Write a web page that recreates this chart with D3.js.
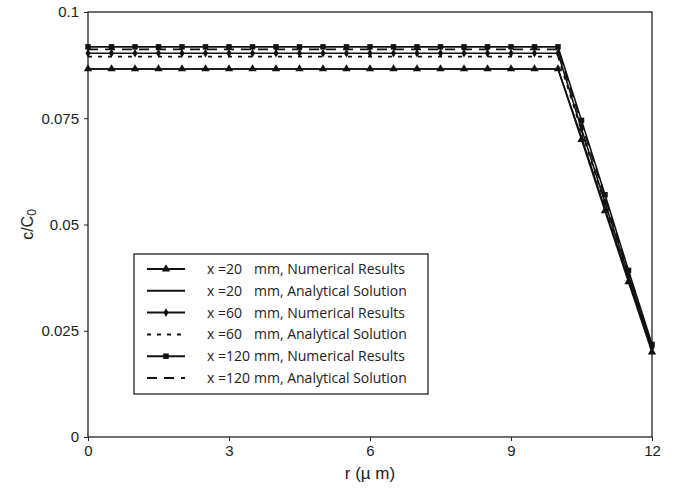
<!DOCTYPE html>
<html>
<head>
<meta charset="utf-8">
<script src="https://cdn.jsdelivr.net/npm/d3@7"></script>
<style>
  body { margin: 0; background: #fff; }
  svg { display: block; font-family: "Liberation Sans", Arial, sans-serif; }
  .legend text { font-family: "Open Sans", "Noto Sans", sans-serif; font-size: 14px; fill: #222; }
</style>
</head>
<body>
<div id="vis"></div>
<script>
const width = 675, height = 491;
const margin = { top: 12, right: 23, bottom: 54, left: 88 };

// radial positions (µm)
const rValues = [0, 0.5, 1, 1.5, 2, 2.5, 3, 3.5, 4, 4.5, 5, 5.5, 6, 6.5, 7, 7.5, 8, 8.5, 9, 9.5, 10, 10.5, 11, 11.5, 12];

// c/C0 for each case
const num20 = [0.0866, 0.0866, 0.0866, 0.0866, 0.0866, 0.0866, 0.0866, 0.0866, 0.0866, 0.0866, 0.0866, 0.0866, 0.0866, 0.0866, 0.0866, 0.0866, 0.0866, 0.0866, 0.0866, 0.0866, 0.0866, 0.0700, 0.0532, 0.0365, 0.0200];
const ana20 = [0.0866, 0.0866, 0.0866, 0.0866, 0.0866, 0.0866, 0.0866, 0.0866, 0.0866, 0.0866, 0.0866, 0.0866, 0.0866, 0.0866, 0.0866, 0.0866, 0.0866, 0.0866, 0.0866, 0.0866, 0.0866, 0.0705, 0.0537, 0.0370, 0.0203];
const num60 = [0.0903, 0.0903, 0.0903, 0.0903, 0.0903, 0.0903, 0.0903, 0.0903, 0.0903, 0.0903, 0.0903, 0.0903, 0.0903, 0.0903, 0.0903, 0.0903, 0.0903, 0.0903, 0.0903, 0.0903, 0.0903, 0.0725, 0.0552, 0.0380, 0.0210];
const ana60 = [0.0895, 0.0895, 0.0895, 0.0895, 0.0895, 0.0895, 0.0895, 0.0895, 0.0895, 0.0895, 0.0895, 0.0895, 0.0895, 0.0895, 0.0895, 0.0895, 0.0895, 0.0895, 0.0895, 0.0895, 0.0895, 0.0720, 0.0548, 0.0377, 0.0208];
const num120 = [0.0918, 0.0918, 0.0918, 0.0918, 0.0918, 0.0918, 0.0918, 0.0918, 0.0918, 0.0918, 0.0918, 0.0918, 0.0918, 0.0918, 0.0918, 0.0918, 0.0918, 0.0918, 0.0918, 0.0918, 0.0918, 0.0745, 0.0570, 0.0392, 0.0218];
const ana120 = [0.0912, 0.0912, 0.0912, 0.0912, 0.0912, 0.0912, 0.0912, 0.0912, 0.0912, 0.0912, 0.0912, 0.0912, 0.0912, 0.0912, 0.0912, 0.0912, 0.0912, 0.0912, 0.0912, 0.0912, 0.0912, 0.0738, 0.0563, 0.0388, 0.0215];

const xTicks = [0, 3, 6, 9, 12];
const yTicks = [0, 0.025, 0.05, 0.075, 0.1];
const yTickLabels = ["0", "0.025", "0.05", "0.075", "0.1"];

const legendPos = ["x =20", "x =20", "x =60", "x =60", "x =120", "x =120"];
const legendText = ["mm, Numerical Results", "mm, Analytical Solution", "mm, Numerical Results", "mm, Analytical Solution", "mm, Numerical Results", "mm, Analytical Solution"];

const series = [
  { values: num20, marker: "triangle", dash: null },
  { values: ana20, marker: null, dash: null },
  { values: num60, marker: "diamond", dash: null },
  { values: ana60, marker: null, dash: "4,6" },
  { values: num120, marker: "square", dash: null },
  { values: ana120, marker: null, dash: "10,7" }
];

const svg = d3.select("#vis").append("svg")
  .attr("width", width)
  .attr("height", height);

const x = d3.scaleLinear().domain([0, 12]).range([margin.left, width - margin.right]);
const y = d3.scaleLinear().domain([0, 0.1]).range([height - margin.bottom, margin.top]);

// plot frame
svg.append("rect")
  .attr("x", x(0)).attr("y", y(0.1))
  .attr("width", x(12) - x(0)).attr("height", y(0) - y(0.1))
  .attr("fill", "none").attr("stroke", "#222").attr("stroke-width", 1.3);

const xAxis = d3.axisBottom(x).tickValues(xTicks).tickSize(4).tickSizeOuter(0).tickPadding(4);
const yAxis = d3.axisLeft(y).tickValues(yTicks).tickSize(4).tickSizeOuter(0).tickPadding(5)
  .tickFormat((d, i) => yTickLabels[i]);

const gx = svg.append("g").attr("transform", `translate(0,${y(0)})`).call(xAxis);
const gy = svg.append("g").attr("transform", `translate(${x(0)},0)`).call(yAxis);
[gx, gy].forEach(g => {
  g.select(".domain").remove();
  g.selectAll("line").attr("stroke", "#222");
  g.selectAll("text").attr("fill", "#222").style("font-size", "15px")
    .style("font-family", "'Liberation Sans', Arial, sans-serif");
});

// axis titles
svg.append("text")
  .attr("x", (x(0) + x(12)) / 2).attr("y", 479)
  .attr("text-anchor", "middle")
  .style("font-size", "17px").attr("fill", "#222")
  .text("r (\u00b5 m)");

const yl = svg.append("text")
  .attr("transform", `translate(33,${(y(0) + y(0.1)) / 2}) rotate(-90)`)
  .attr("text-anchor", "middle")
  .style("font-size", "16px").attr("fill", "#222");
yl.append("tspan").text("c/C");
yl.append("tspan").attr("dy", 3).style("font-size", "12px").text("0");

const line = d3.line().x((d, i) => x(rValues[i])).y(d => y(d));

const symbolType = { triangle: d3.symbolTriangle, diamond: d3.symbolDiamond, square: d3.symbolSquare };
const symbolSize = { triangle: 30, diamond: 22, square: 30 };

series.forEach(s => {
  svg.append("path")
    .datum(s.values)
    .attr("d", line)
    .attr("fill", "none")
    .attr("stroke", "#111")
    .attr("stroke-width", 1.6)
    .attr("stroke-dasharray", s.dash);
  if (s.marker) {
    svg.selectAll(null)
      .data(s.values)
      .enter().append("path")
      .attr("transform", (d, i) => `translate(${x(rValues[i])},${y(d)})`)
      .attr("d", d3.symbol().type(symbolType[s.marker]).size(symbolSize[s.marker]))
      .attr("fill", "#111");
  }
});

// legend
const legend = svg.append("g").attr("class", "legend");
legend.append("rect")
  .attr("x", 134).attr("y", 254).attr("width", 294).attr("height", 140)
  .attr("fill", "#fff").attr("stroke", "#222").attr("stroke-width", 1.3);

series.forEach((s, i) => {
  const ly = 269 + i * 21.8;
  legend.append("line")
    .attr("x1", 147).attr("x2", 185).attr("y1", ly).attr("y2", ly)
    .attr("stroke", "#111").attr("stroke-width", 2)
    .attr("stroke-dasharray", s.dash);
  if (s.marker) {
    legend.append("path")
      .attr("transform", `translate(166,${ly})`)
      .attr("d", d3.symbol().type(symbolType[s.marker]).size(symbolSize[s.marker]))
      .attr("fill", "#111");
  }
  legend.append("text").attr("x", 207).attr("y", ly + 5).text(legendPos[i]);
  legend.append("text").attr("x", 254).attr("y", ly + 5).text(legendText[i]);
});
</script>
</body>
</html>
